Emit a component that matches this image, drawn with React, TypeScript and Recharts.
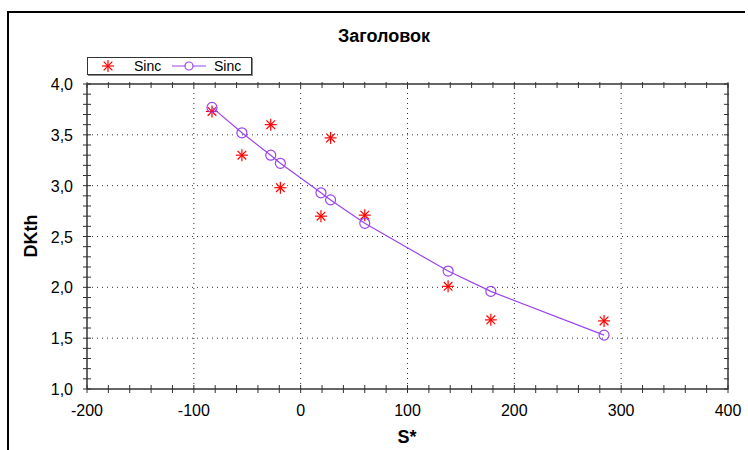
import {
  ScatterChart,
  Scatter,
  XAxis,
  YAxis,
  ReferenceLine,
} from "recharts"

// S* values (shared by both series)
const sValues = [-83, -55, -28, -19, 19, 28, 60, 138, 178, 284]
// measured DKth (red stars)
const dkMeasured = [3.73, 3.3, 3.6, 2.98, 2.7, 3.47, 2.71, 2.01, 1.68, 1.67]
// fitted DKth (purple line with circles)
const dkFitted = [3.77, 3.52, 3.3, 3.22, 2.93, 2.86, 2.63, 2.16, 1.96, 1.53]

const xMajor = [-200, -100, 0, 100, 200, 300, 400]
const yMajor = [1, 1.5, 2, 2.5, 3, 3.5, 4]
const xTicks = Array.from({ length: 31 }, (_, i) => -200 + i * 20)
const yTicks = Array.from({ length: 31 }, (_, i) => Math.round((1 + i * 0.1) * 10) / 10)

const starData = sValues.map((s, i) => ({ s, dk: dkMeasured[i] }))
const fitData = sValues.map((s, i) => ({ s, dk: dkFitted[i] }))

const FONT = "'Liberation Sans', Arial, sans-serif"
const RED = "#ff0000"
const PURPLE = "#9b45f0"
const AXIS = "#333"

const isMajorX = (v: number) => Math.abs(v % 100) < 1e-6
const isMajorY = (v: number) => Math.abs(Math.round(v * 10) % 5) === 0

function BottomTick(props: any) {
  const { x, y, payload } = props
  const major = isMajorX(payload.value)
  return (
    <g>
      <line x1={x} x2={x} y1={y - 4} y2={y + 4} stroke={AXIS} />
      {major && (
        <text x={x} y={y + 27} textAnchor="middle" fontSize={16} fontFamily={FONT} fill="#000">
          {payload.value}
        </text>
      )}
    </g>
  )
}

function TopTick(props: any) {
  const { x, y } = props
  return <line x1={x} x2={x} y1={y - 2} y2={y + 4} stroke={AXIS} />
}

function LeftTick(props: any) {
  const { x, y, payload } = props
  const major = isMajorY(payload.value)
  return (
    <g>
      <line x1={x - 4} x2={x + 4} y1={y} y2={y} stroke={AXIS} />
      {major && (
        <text x={x - 14} y={y + 6} textAnchor="end" fontSize={16} fontFamily={FONT} fill="#000">
          {payload.value.toFixed(1).replace(".", ",")}
        </text>
      )}
    </g>
  )
}

function RightTick(props: any) {
  const { x, y } = props
  return <line x1={x - 4} x2={x + 1} y1={y} y2={y} stroke={AXIS} />
}

function Star(props: any) {
  const { cx, cy } = props
  const r = 6
  const d = r * 0.72
  return (
    <g stroke={RED} strokeWidth={1.2}>
      <line x1={cx - r} x2={cx + r} y1={cy} y2={cy} />
      <line x1={cx} x2={cx} y1={cy - r} y2={cy + r} />
      <line x1={cx - d} x2={cx + d} y1={cy - d} y2={cy + d} />
      <line x1={cx - d} x2={cx + d} y1={cy + d} y2={cy - d} />
    </g>
  )
}

function Ring(props: any) {
  const { cx, cy } = props
  return <circle cx={cx} cy={cy} r={5} fill="none" stroke={PURPLE} strokeWidth={1.2} />
}

function LegendBox() {
  return (
    <div
      style={{
        position: "absolute",
        left: 87,
        top: 57,
        width: 163,
        height: 16,
        border: "1px solid #333",
        boxShadow: "1px 1px 0 #888",
        background: "#fff",
        display: "flex",
        alignItems: "center",
        fontFamily: FONT,
        fontSize: 14,
        color: "#000",
      }}
    >
      <svg width={46} height={16}>
        <Star cx={20} cy={8} />
      </svg>
      <span style={{ width: 38 }}>Sinc</span>
      <svg width={42} height={16}>
        <line x1={0} x2={34} y1={8} y2={8} stroke={PURPLE} strokeWidth={1.2} />
        <circle cx={17} cy={8} r={4} fill="#fff" stroke={PURPLE} strokeWidth={1.2} />
      </svg>
      <span>Sinc</span>
    </div>
  )
}

export default function App() {
  return (
    <div style={{ position: "absolute", left: 0, top: 0, width: 748, height: 450, background: "#fff" }}>
      <div
        style={{
          position: "absolute",
          left: 7,
          top: 11,
          width: 736,
          height: 450,
          borderTop: "2px solid #000",
          borderLeft: "2px solid #000",
        }}
      />
      <div
        style={{
          position: "absolute",
          left: 0,
          width: 748,
          top: 26,
          textAlign: "center",
          fontFamily: FONT,
          fontWeight: "bold",
          fontSize: 18,
          paddingLeft: 20,
          boxSizing: "border-box",
        }}
      >
        Заголовок
      </div>
      <div
        style={{
          position: "absolute",
          left: 31,
          top: 236,
          transform: "translate(-50%, -50%) rotate(-90deg)",
          fontFamily: FONT,
          fontWeight: "bold",
          fontSize: 18,
        }}
      >
        DKth
      </div>
      <div
        style={{
          position: "absolute",
          left: 407,
          top: 437,
          transform: "translate(-50%, -50%)",
          fontFamily: FONT,
          fontWeight: "bold",
          fontSize: 18,
        }}
      >
        S*
      </div>
      <div style={{ position: "absolute", left: 0, top: 0 }}>
        <ScatterChart width={748} height={450} margin={{ top: 80, right: 10, bottom: 21, left: 30 }}>
          <XAxis
            xAxisId="b"
            type="number"
            dataKey="s"
            domain={[-200, 400]}
            ticks={xTicks}
            interval={0}
            height={40}
            tickSize={0}
            tickMargin={0}
            tickLine={false}
            tick={<BottomTick />}
            axisLine={{ stroke: AXIS, strokeWidth: 1.5 }}
            allowDataOverflow
          />
          <XAxis
            xAxisId="t"
            orientation="top"
            type="number"
            dataKey="s"
            domain={[-200, 400]}
            ticks={xTicks}
            interval={0}
            height={4}
            tickSize={0}
            tickMargin={0}
            tickLine={false}
            tick={<TopTick />}
            axisLine={{ stroke: AXIS, strokeWidth: 1.5 }}
            allowDataOverflow
          />
          <YAxis
            yAxisId="l"
            type="number"
            dataKey="dk"
            domain={[1, 4]}
            ticks={yTicks}
            interval={0}
            width={57}
            tickSize={0}
            tickMargin={0}
            tickLine={false}
            tick={<LeftTick />}
            axisLine={{ stroke: AXIS, strokeWidth: 1.5 }}
            allowDataOverflow
          />
          <YAxis
            yAxisId="r"
            orientation="right"
            type="number"
            dataKey="dk"
            domain={[1, 4]}
            ticks={yTicks}
            interval={0}
            width={10}
            tickSize={0}
            tickMargin={0}
            tickLine={false}
            tick={<RightTick />}
            axisLine={{ stroke: AXIS, strokeWidth: 1.5 }}
            allowDataOverflow
          />
          {xMajor.slice(1, -1).map((v) => (
            <ReferenceLine key={"x" + v} x={v} xAxisId="b" yAxisId="l" stroke="#333" strokeDasharray="1 4" />
          ))}
          {yMajor.slice(1, -1).map((v) => (
            <ReferenceLine key={"y" + v} y={v} xAxisId="b" yAxisId="l" stroke="#333" strokeDasharray="1 4" />
          ))}
          <Scatter
            name="Sinc"
            data={starData}
            xAxisId="b"
            yAxisId="l"
            shape={<Star />}
            isAnimationActive={false}
          />
          <Scatter
            name="Sinc"
            data={fitData}
            xAxisId="b"
            yAxisId="l"
            shape={<Ring />}
            line={{ stroke: PURPLE, strokeWidth: 1.2 }}
            lineType="joint"
            isAnimationActive={false}
          />
        </ScatterChart>
      </div>
      <LegendBox />
    </div>
  )
}
